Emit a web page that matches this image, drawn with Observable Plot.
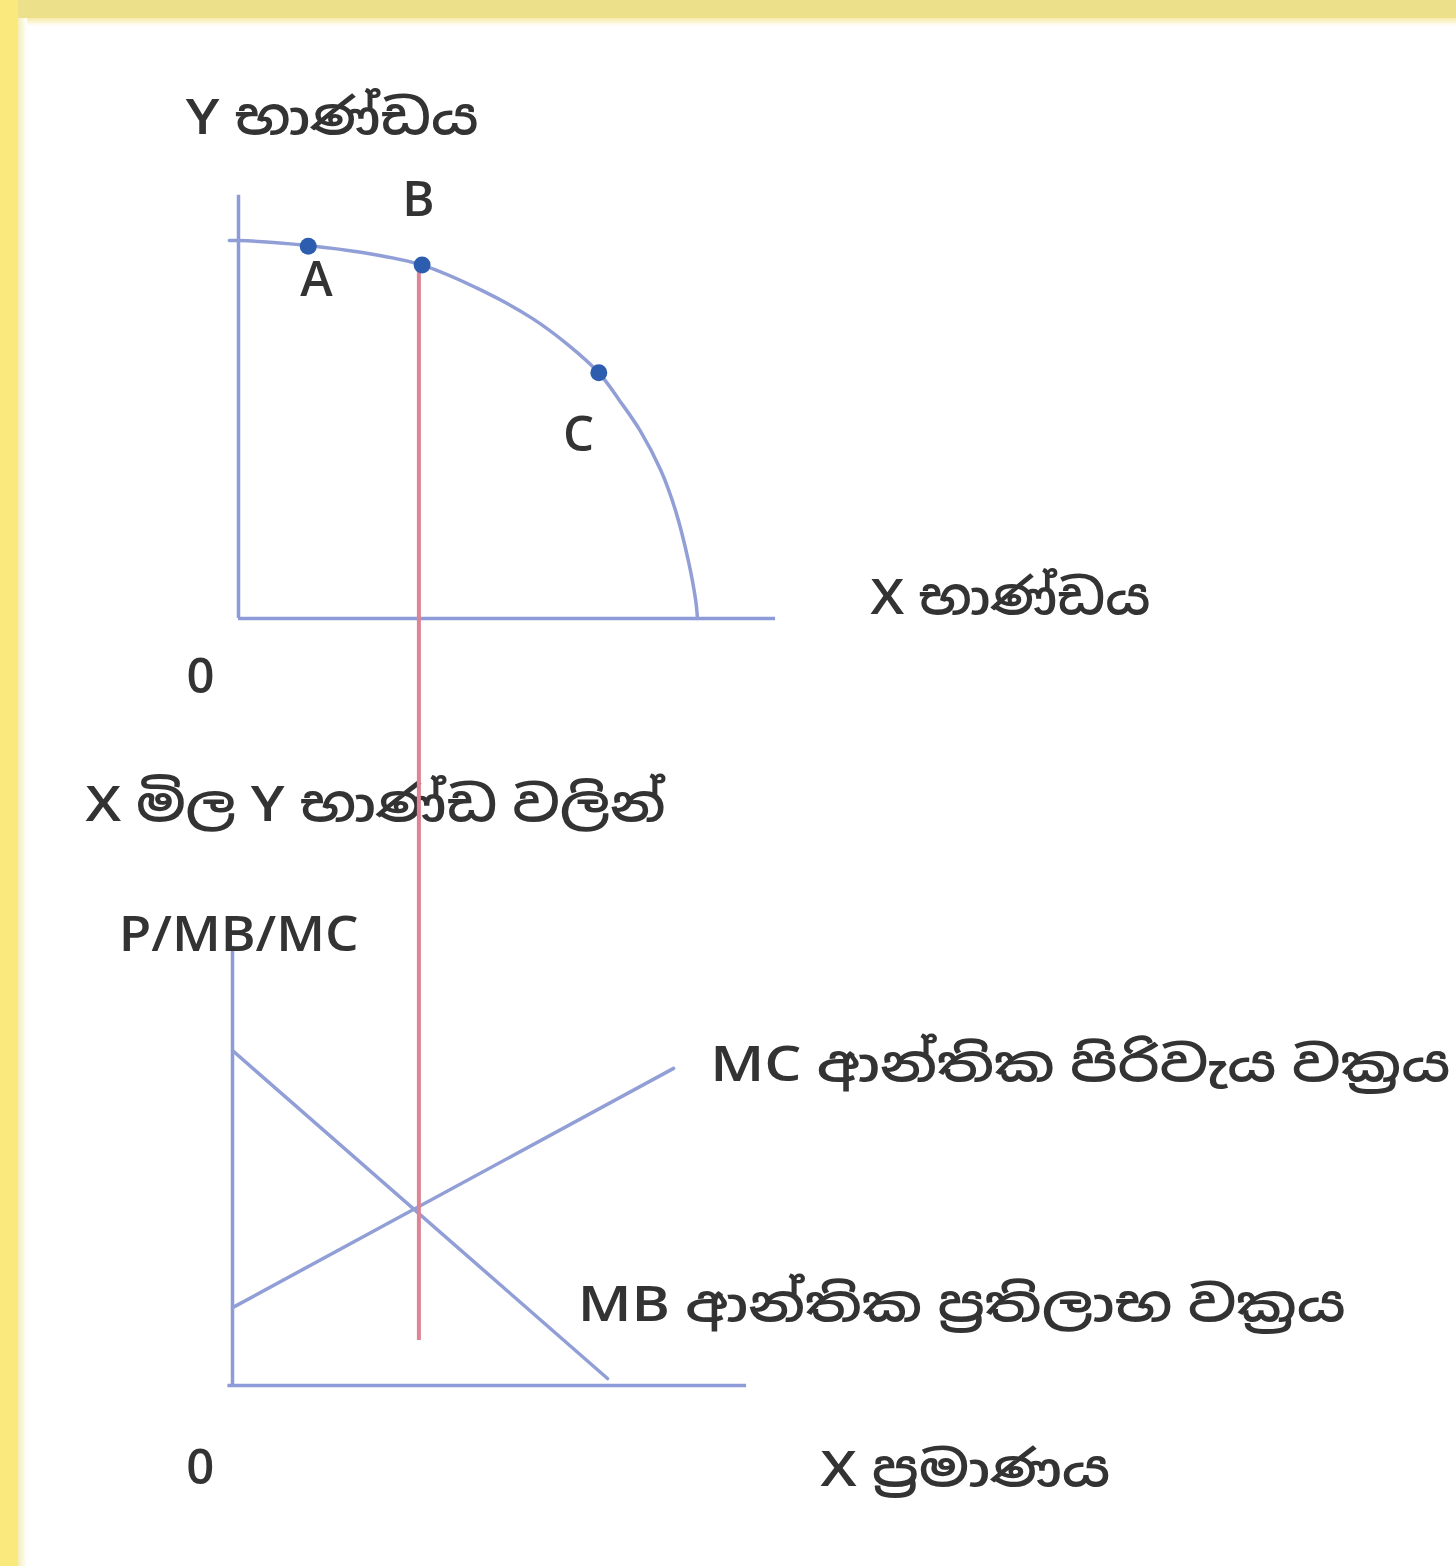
<!DOCTYPE html>
<html>
<head>
<meta charset="utf-8">
<script src="https://cdn.jsdelivr.net/npm/d3@7"></script>
<script src="https://cdn.jsdelivr.net/npm/@observablehq/plot@0.6"></script>
<style>
  html, body { margin: 0; padding: 0; background: #ffffff; }
  #page { position: relative; width: 1456px; height: 1566px; overflow: hidden; background: #ffffff; }
  .band-top { position: absolute; left: 0; top: 0; width: 1456px; height: 18px; background: #ede08a; }
  .band-top2 { position: absolute; left: 0; top: 18px; width: 1456px; height: 8px; background: linear-gradient(#f7eba8, #ffffff); }
  .band-left { position: absolute; left: 0; top: 0; width: 18px; height: 1566px; background: #fae97c; }
  .band-left2 { position: absolute; left: 18px; top: 18px; width: 9px; height: 1548px; background: linear-gradient(90deg, #f3eeb8, #ffffff); }
  .layer { position: absolute; left: 0; top: 0; }
</style>
</head>
<body>
<div id="page">
  <div class="band-top"></div>
  <div class="band-top2"></div>
  <div class="band-left"></div>
  <div class="band-left2"></div>
  <div id="bottom" class="layer"></div>
  <div id="top" class="layer"></div>
</div>
<script>
// ---------- Top panel: production possibility frontier ----------
const ppfX = [-0.2, 0, 1.5, 2.7, 4.0, 5.3, 6.4, 7.2, 7.85, 8.3, 8.75, 9.2, 9.52, 9.8, 9.96, 10];
const ppfY = [10, 10, 9.87, 9.68, 9.35, 8.68, 7.94, 7.22, 6.5, 5.77, 4.97, 3.92, 2.86, 1.53, 0.48, 0];
const pointNames = ["A", "B", "C"];
const pointX = [1.52, 4.0, 7.85];
const pointY = [9.85, 9.35, 6.5];
const topAxisYMax = 11.2;   // top of the vertical axis
const topAxisXMax = 11.7;   // end of the horizontal axis
const redLineX = 3.93;      // the vertical guide from B
const redLineBottom = -19.1; // where it stops, below the lower panel intersection
const topLabels = ["Y භාණ්ඩය", "X භාණ්ඩය", "0"];
const topLabelX = [-1.15, 13.77, -0.83];
const topLabelY = [13.23, 0.53, -1.56];
const topLabelAnchor = ["start", "start", "middle"];
const pointLabelX = [1.7, 3.92, 7.41];
const pointLabelY = [8.94, 11.06, 4.84];

// ---------- Bottom panel: marginal benefit / marginal cost ----------
const mbX = [0, 8.17];
const mbY = [7.7, 0.16];
const mcX = [0, 9.61];
const mcY = [1.79, 7.29];
const botAxisYMax = 10.1;
const botAxisXMin = -0.1;
const botAxisXMax = 11.2;
const botLabels = ["X මිල Y භාණ්ඩ වලින්", "P/MB/MC", "MC ආන්තික පිරිවැය වක්‍රය", "MB ආන්තික ප්‍රතිලාභ වක්‍රය", "0", "X ප්‍රමාණය"];
const botLabelX = [-3.2, -2.48, 10.41, 7.52, -0.70, 12.81];
const botLabelY = [13.33, 10.34, 7.36, 1.84, -1.91, -1.95];
const botLabelAnchor = ["start", "start", "start", "start", "middle", "start"];

// ---------- Styling ----------
const axisColor = "#8d9bd8";
const curveColor = "#919fd6";
const redColor = "#de8494";
const dotColor = "#2d5daf";
const textColor = "#333333";
const font = "'Open Sans', 'Noto Sans', 'Noto Sans Sinhala', sans-serif";
const fontSize = 49;
const fontWeight = 600;
// rendered widths of the wide (stretched) labels, in pixels
const labelWidthStyle = new Map([
  ["Y භාණ්ඩය", 293],
  ["X භාණ්ඩය", 280],
  ["X මිල Y භාණ්ඩ වලින්", 580],
  ["P/MB/MC", 240],
  ["MC ආන්තික පිරිවැය වක්‍රය", 740],
  ["MB ආන්තික ප්‍රතිලාභ වක්‍රය", 768],
  ["X ප්‍රමාණය", 290]
]);
function stretchLabels(svg) {
  svg.querySelectorAll("text").forEach(t => {
    const w = labelWidthStyle.get(t.textContent);
    if (w) {
      t.setAttribute("textLength", w);
      t.setAttribute("lengthAdjust", "spacingAndGlyphs");
    }
  });
}
const textStyle = {fontSize, fontWeight, fill: textColor};

const ppf = ppfX.map((x, i) => ({x, y: ppfY[i]}));
const pts = pointNames.map((n, i) => ({n, x: pointX[i], y: pointY[i], lx: pointLabelX[i], ly: pointLabelY[i]}));
const tLabels = topLabels.map((t, i) => ({t, x: topLabelX[i], y: topLabelY[i], a: topLabelAnchor[i]}));

const topPlot = Plot.plot({
  width: 1456,
  height: 1566,
  style: {background: "transparent", fontFamily: font},
  x: {domain: [0, 10], range: [238, 697], axis: null},
  y: {domain: [0, 10], range: [618, 240], axis: null},
  marks: [
    Plot.ruleX([0], {y1: 0, y2: topAxisYMax, stroke: axisColor, strokeWidth: 3.5}),
    Plot.ruleY([0], {x1: 0, x2: topAxisXMax, stroke: axisColor, strokeWidth: 3.5}),
    Plot.line(ppf, {x: "x", y: "y", curve: "catmull-rom", stroke: curveColor, strokeWidth: 3.5}),
    Plot.ruleX([redLineX], {y1: pointY[1], y2: redLineBottom, stroke: redColor, strokeWidth: 4}),
    Plot.dot(pts, {x: "x", y: "y", r: 8.5, fill: dotColor}),
    Plot.text(pts, {x: "lx", y: "ly", text: "n", ...textStyle}),
    Plot.text(tLabels.filter(d => d.a === "start"), {x: "x", y: "y", text: "t", textAnchor: "start", ...textStyle}),
    Plot.text(tLabels.filter(d => d.a === "middle"), {x: "x", y: "y", text: "t", textAnchor: "middle", ...textStyle})
  ]
});
stretchLabels(topPlot);
document.getElementById("top").appendChild(topPlot);

const mb = mbX.map((x, i) => ({x, y: mbY[i]}));
const mc = mcX.map((x, i) => ({x, y: mcY[i]}));
const bLabels = botLabels.map((t, i) => ({t, x: botLabelX[i], y: botLabelY[i], a: botLabelAnchor[i]}));

const bottomPlot = Plot.plot({
  width: 1456,
  height: 1566,
  style: {background: "transparent", fontFamily: font},
  x: {domain: [0, 10], range: [232, 691], axis: null},
  y: {domain: [0, 10], range: [1385, 950], axis: null},
  marks: [
    Plot.ruleX([0], {y1: 0, y2: botAxisYMax, stroke: axisColor, strokeWidth: 3.5}),
    Plot.ruleY([0], {x1: botAxisXMin, x2: botAxisXMax, stroke: axisColor, strokeWidth: 3.5}),
    Plot.line(mb, {x: "x", y: "y", stroke: curveColor, strokeWidth: 3.5}),
    Plot.line(mc, {x: "x", y: "y", stroke: curveColor, strokeWidth: 3.5}),
    Plot.text(bLabels.filter(d => d.a === "start"), {x: "x", y: "y", text: "t", textAnchor: "start", ...textStyle}),
    Plot.text(bLabels.filter(d => d.a === "middle"), {x: "x", y: "y", text: "t", textAnchor: "middle", ...textStyle})
  ]
});
stretchLabels(bottomPlot);
document.getElementById("bottom").appendChild(bottomPlot);
</script>
</body>
</html>
